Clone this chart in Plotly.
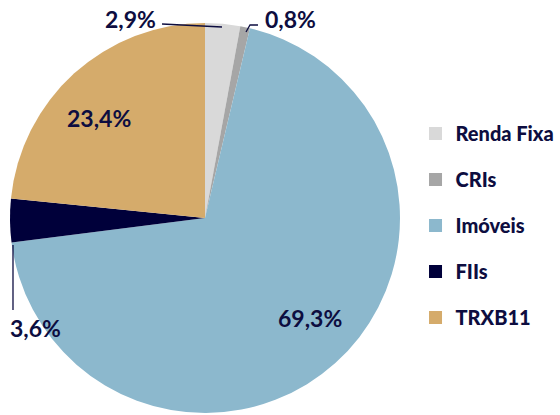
import math
import plotly.graph_objects as go

labels = ["Renda Fixa", "CRIs", "Imóveis", "FIIs", "TRXB11"]
values = [2.9, 0.8, 69.3, 3.6, 23.4]
text_labels = ["2,9%", "0,8%", "69,3%", "3,6%", "23,4%"]
colors = ["#d9d9d9", "#a6a6a6", "#8cb8cd", "#00003a", "#d5ab6b"]

W, H = 560, 415
CX, CY, R = 205, 218, 195
TXT = "#0d0d40"
FONT = "Lato"

fig = go.Figure()
fig.add_trace(go.Pie(
    labels=labels, values=values, sort=False, direction="clockwise", rotation=0,
    marker=dict(colors=colors, line=dict(width=0)),
    textinfo="none", hoverinfo="label+percent", showlegend=False,
    domain=dict(x=[(CX - R) / W, (CX + R) / W], y=[1 - (CY + R) / H, 1 - (CY - R) / H]),
))

# legend via dummy traces (one group each so the gap can be set)
for lab, col in zip(labels, colors):
    fig.add_trace(go.Scatter(x=[None], y=[None], mode="markers", name=lab,
                             legendgroup=lab,
                             marker=dict(symbol="square", size=13, color=col)))

def px(x, y):
    return x / W, 1 - y / H

LFONT = dict(size=23, color=TXT, family=FONT, weight="bold")
annotations = []
# inside labels computed from slice mid angles
total = sum(values)
cum = 0
mids = []
for v in values:
    mids.append((cum + v / 2) / total * 2 * math.pi)
    cum += v
for i in (2, 4):
    a = mids[i] - math.radians(4.5)
    r = 0.745 * R
    x = CX + r * math.sin(a)
    y = CY - r * math.cos(a)
    xp, yp = px(x, y)
    annotations.append(dict(x=xp, y=yp, xref="paper", yref="paper", text=text_labels[i],
                            xanchor="center", yanchor="middle",
                            showarrow=False, font=LFONT))
# outside labels
outside = {0: (130, 19), 1: (290, 19), 3: (35, 328)}
for i, (x, y) in outside.items():
    xp, yp = px(x, y)
    annotations.append(dict(x=xp, y=yp, xref="paper", yref="paper", text=text_labels[i],
                            xanchor="center", yanchor="middle",
                            showarrow=False, font=LFONT))

def path(pts):
    d = "M " + " L ".join(f"{x / W:.5f},{1 - y / H:.5f}" for x, y in pts)
    return dict(type="path", path=d, xref="paper", yref="paper",
                line=dict(color=TXT, width=1.3))

shapes = [
    path([(162, 24), (222, 27)]),
    path([(258, 25), (250, 25), (246, 32)]),
    path([(13, 245), (13, 310)]),
]

fig.update_layout(
    width=W, height=H,
    margin=dict(l=0, r=0, t=0, b=0),
    paper_bgcolor="white", plot_bgcolor="white",
    xaxis=dict(visible=False), yaxis=dict(visible=False),
    annotations=annotations, shapes=shapes,
    legend=dict(x=0.742, y=1 - 114 / H, xanchor="left", yanchor="top",
                tracegroupgap=17, font=dict(size=20, color=TXT, family=FONT, weight=900),
                bgcolor="rgba(0,0,0,0)"),
    showlegend=True,
)

fig.write_html("out.html", config={"displayModeBar": False},
               post_script="document.body.style.margin='0';")
